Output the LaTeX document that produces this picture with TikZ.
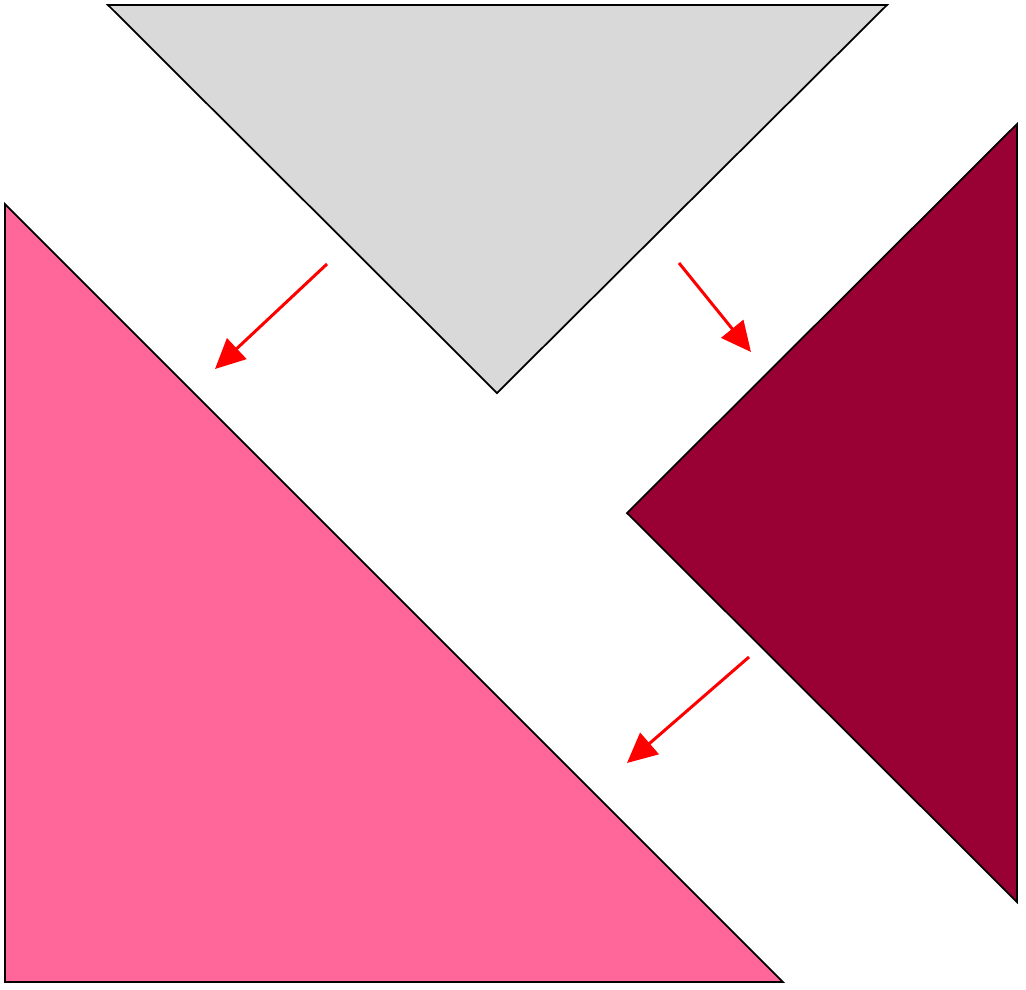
\documentclass[tikz,border=0pt]{standalone}
\usetikzlibrary{arrows.meta}

\definecolor{shadegray}{HTML}{D9D9D9}
\definecolor{wine}{HTML}{990033}
\definecolor{rosepink}{HTML}{FF6699}

\tikzset{
  piece/.style={draw=black,line width=0.5pt,line join=miter},
  move/.style={draw=red,line width=0.85pt,-{Triangle[length=8.5pt,width=8pt]}}
}

\begin{document}
\begin{tikzpicture}[x=0.01cm,y=-0.01cm]
\useasboundingbox (0,0) rectangle (1026,990);

% the three pieces
\filldraw[piece,fill=shadegray] (108,5) -- (887,5) -- (497,393) -- cycle;
\filldraw[piece,fill=wine] (1017,124) -- (1017,902) -- (627,513) -- cycle;
\filldraw[piece,fill=rosepink] (5,204) -- (5,982) -- (783,982) -- cycle;

% arrow ends
\coordinate (s1) at (327,264);
\coordinate (e1) at (215,369);
\coordinate (s2) at (679,263);
\coordinate (e2) at (751,352);
\coordinate (s3) at (749,657);
\coordinate (e3) at (627,763);

\draw[move] (s1) -- (e1);
\draw[move] (s2) -- (e2);
\draw[move] (s3) -- (e3);

\end{tikzpicture}
\end{document}
